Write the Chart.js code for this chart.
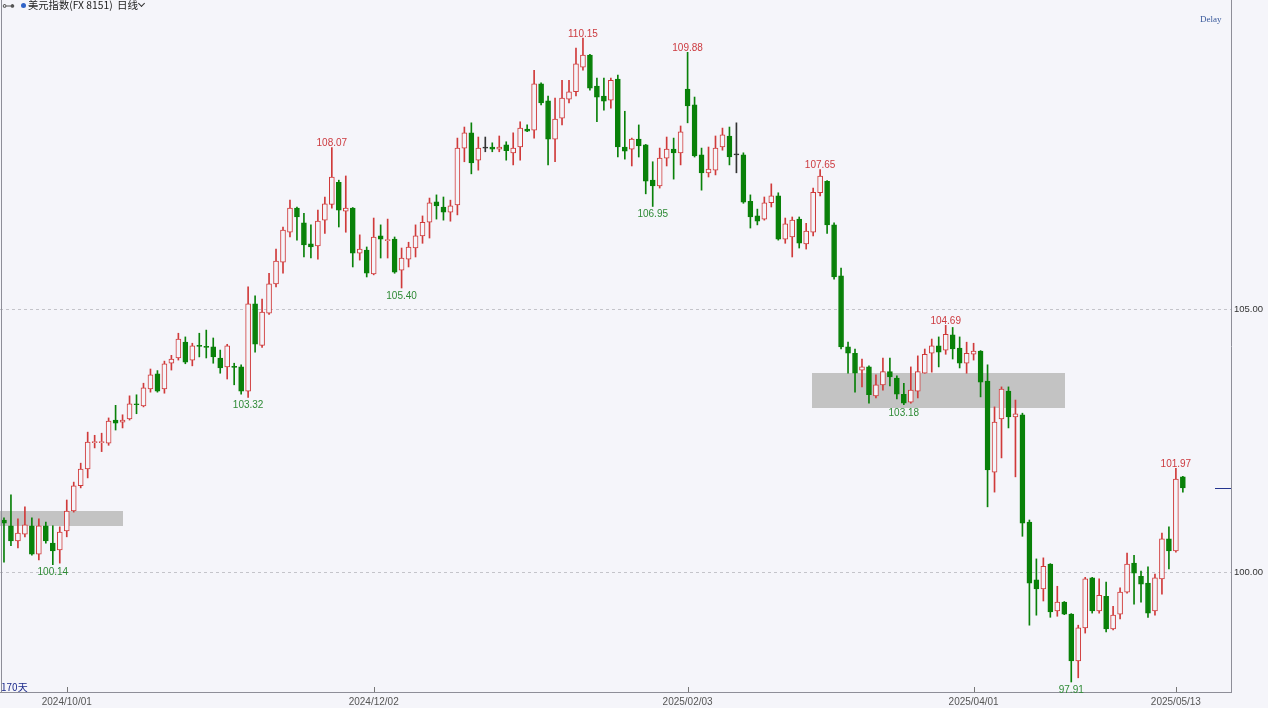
<!DOCTYPE html>
<html>
<head>
<meta charset="utf-8">
<title>美元指数 日线</title>
<script src="https://cdn.jsdelivr.net/npm/chart.js@4.4.1/dist/chart.umd.min.js"></script>
<style>
  html, body { margin: 0; padding: 0; background: #f5f5fa; }
  #wrap { position: relative; width: 1268px; height: 708px; overflow: hidden; background: #f5f5fa; }
  #c { position: absolute; left: 0; top: 0; }
  .t { position: absolute; white-space: nowrap; font-family: "Noto Sans CJK SC", "Liberation Sans", sans-serif; line-height: 1; }
  .chev { position: absolute; left: 139px; top: 1px; width: 4px; height: 4px;
          border-right: 1.3px solid #333; border-bottom: 1.3px solid #333; transform: rotate(45deg); }
  .dot { position: absolute; left: 21px; top: 3px; width: 5px; height: 5px; border-radius: 50%; background: #2f63c8; }
</style>
</head>
<body>
<div id="wrap">
  <canvas id="c" width="1268" height="708"></canvas>
  <div class="t" style="left:2px;top:-1px;font-size:13px;color:#555;font-family:'DejaVu Sans',sans-serif;">⊶</div>
  <div class="dot"></div>
  <div class="t" style="left:28px;top:0px;font-size:10.3px;color:#222;">美元指数(FX 8151)</div>
  <div class="t" style="left:117px;top:0px;font-size:10.5px;color:#222;">日线</div>
  <div class="chev"></div>
  <div class="t" style="left:1200px;top:15px;font-size:9px;color:#3a5a9c;font-family:'Liberation Serif',serif;">Delay</div>
  <div class="t" style="left:1px;top:682px;font-size:10px;color:#1c2a8c;">170天</div>
</div>
<script>
// Daily OHLC of the dollar index, oldest first (2024/09/18 .. 2025/05/14)
const open = [
  100.99,100.88,100.59,100.72,100.88,100.34,100.88,100.55,100.42,100.78,
  101.16,101.64,101.96,102.46,102.46,102.45,102.89,102.85,102.91,103.20,
  103.16,103.48,103.77,103.48,103.97,104.07,104.37,104.03,104.31,104.29,
  104.28,104.07,103.90,103.91,103.90,103.44,105.10,104.31,104.92,105.48,
  105.89,106.46,106.92,106.64,106.24,106.20,106.69,106.99,107.41,106.86,
  106.92,106.06,106.12,105.67,106.39,106.30,106.33,105.74,105.95,106.16,
  106.39,106.65,107.04,106.94,106.84,106.98,108.06,108.35,107.83,108.06,
  108.08,108.04,108.12,107.97,108.08,108.42,108.40,109.28,108.96,108.23,
  108.63,108.99,109.13,109.60,109.83,109.24,109.05,108.97,109.37,108.08,
  108.04,108.23,108.12,107.45,107.34,107.87,108.04,107.97,109.18,108.88,
  107.93,107.59,107.64,108.08,108.29,107.93,107.93,107.05,106.77,106.71,
  107.02,107.15,106.33,106.37,106.71,106.24,106.46,107.21,107.43,106.60,
  105.63,104.28,104.16,103.84,103.90,103.35,103.56,103.81,103.69,103.38,
  103.23,103.44,103.78,104.16,104.30,104.22,104.51,104.26,103.97,104.14,
  104.20,103.63,101.90,102.91,103.44,102.95,102.99,100.95,99.85,99.68,
  100.15,99.26,99.43,99.20,98.31,98.94,99.89,99.26,99.54,98.92,
  99.20,99.62,100.17,99.92,99.79,99.26,99.87,100.63,100.40,101.81
];
const high = [
  101.03,101.47,101.01,101.24,101.03,101.01,100.95,100.88,100.86,101.37,
  101.71,102.07,102.66,102.60,102.64,102.93,103.17,102.99,103.35,103.37,
  103.59,103.86,103.83,104.01,104.12,104.54,104.47,104.35,104.54,104.60,
  104.45,104.22,104.33,103.97,103.94,105.42,105.25,105.19,105.68,106.14,
  106.56,107.07,106.94,106.82,106.60,106.88,107.13,108.07,107.45,107.53,
  106.93,106.41,106.18,106.73,106.60,106.71,106.37,106.16,106.27,106.60,
  106.77,107.11,107.17,107.13,107.07,108.25,108.46,108.54,108.27,108.27,
  108.16,108.29,108.18,108.35,108.56,108.50,109.54,109.30,109.05,109.01,
  109.35,109.35,109.96,110.15,109.84,109.39,109.39,109.39,109.45,108.76,
  108.25,108.50,108.13,107.80,108.06,108.27,108.25,108.48,109.88,109.03,
  108.06,108.08,108.29,108.44,108.46,108.54,107.97,107.17,106.90,107.13,
  107.38,107.21,106.73,106.75,106.75,106.63,107.30,107.65,107.44,106.64,
  105.78,104.37,104.24,104.05,103.92,103.75,104.07,104.07,103.73,103.59,
  103.90,104.11,104.24,104.43,104.47,104.69,104.65,104.47,104.37,104.35,
  104.21,103.94,103.14,103.52,103.52,103.27,103.02,100.99,100.25,100.27,
  100.16,99.73,99.44,99.21,98.99,99.90,99.90,99.87,99.81,99.35,
  99.70,100.36,100.32,100.02,100.10,99.96,100.74,100.86,101.97,101.82
];
const low = [
  100.19,100.50,100.46,100.67,100.32,100.23,100.55,100.14,100.17,100.67,
  101.14,101.60,101.79,102.36,102.29,102.41,102.70,102.74,102.89,103.01,
  103.14,103.42,103.42,103.40,103.84,104.03,103.96,103.92,104.09,104.07,
  103.97,103.78,103.67,103.56,103.38,103.32,104.18,104.27,104.90,105.42,
  105.68,106.37,106.31,105.99,105.97,105.95,106.44,106.92,106.56,106.46,
  105.80,105.93,105.61,105.65,105.97,105.97,105.68,105.40,105.80,105.99,
  106.25,106.35,106.71,106.69,106.67,106.79,107.80,107.57,107.64,107.99,
  107.99,107.99,107.83,107.74,107.83,108.37,108.25,108.88,107.74,107.80,
  108.50,108.92,109.05,109.54,109.16,108.56,108.78,108.82,107.89,107.85,
  107.72,107.89,107.19,106.95,107.30,107.72,107.47,107.74,108.54,107.89,
  107.26,107.51,107.55,108.02,107.74,107.59,107.01,106.54,106.60,106.69,
  106.94,106.31,106.25,105.99,106.16,106.14,106.39,107.15,106.44,105.57,
  104.24,103.78,103.42,103.52,103.21,103.31,103.46,103.54,103.29,103.18,
  103.21,103.31,103.78,103.80,103.90,104.14,104.05,103.88,103.78,104.03,
  103.33,101.24,101.52,102.17,102.74,101.81,100.68,98.99,99.18,99.45,
  99.14,99.16,99.19,97.91,97.99,98.84,99.22,99.22,98.86,98.90,
  99.11,99.60,99.39,99.43,99.14,99.18,99.58,100.06,100.38,101.52
];
const close = [
  100.93,100.59,100.74,100.90,100.34,100.88,100.59,100.40,100.76,101.16,
  101.64,101.96,102.47,102.48,102.47,102.87,102.83,102.89,103.20,103.18,
  103.50,103.75,103.44,103.96,104.05,104.43,103.99,104.30,104.29,104.27,
  104.09,103.88,104.30,103.89,103.44,105.10,104.33,104.94,105.48,105.91,
  106.50,106.92,106.75,106.22,106.18,106.67,107.00,107.51,106.88,106.92,
  106.06,106.14,105.68,106.37,106.33,106.32,105.70,105.97,106.18,106.39,
  106.65,107.02,106.96,106.84,106.96,108.06,108.35,107.78,108.06,108.06,
  108.04,108.08,108.01,108.06,108.44,108.38,109.28,108.92,108.23,108.61,
  109.01,109.13,109.66,109.83,109.20,109.03,108.95,109.35,108.08,108.00,
  108.23,108.10,107.43,107.34,107.87,108.04,107.97,108.37,108.86,107.91,
  107.59,107.66,108.06,108.31,107.89,107.93,107.03,106.75,106.67,107.02,
  107.15,106.33,106.62,106.69,106.25,106.48,107.22,107.53,106.60,105.61,
  104.28,104.16,103.78,103.90,103.37,103.56,103.81,103.71,103.38,103.21,
  103.46,103.81,104.14,104.30,104.18,104.52,104.24,103.97,104.16,104.20,
  103.61,101.94,102.85,103.48,102.95,103.01,100.93,99.79,99.68,100.11,
  99.24,99.43,99.20,98.31,98.94,99.87,99.26,99.56,98.92,99.18,
  99.62,100.15,99.98,99.77,99.22,99.89,100.63,100.40,101.77,101.60
];

// Swing highs / lows that carry a price tag (bar numbers)
const swingHighs = [47, 83, 98, 117, 135, 168];
const swingLows = [7, 35, 57, 93, 129, 153];

// Shaded support/resistance bands: bar span and price span
const zones = [
  { from: -1, to: 17.06, lo: 100.87, hi: 101.16 },
  { from: 115.8, to: 152.1, lo: 103.12, hi: 103.78 }
];

const yTicks = [100, 105];
const dateTicks = ['2024/10/01', '2024/12/02', '2025/02/03', '2025/04/01', '2025/05/13'];
const lastSession = [2025, 4, 14];
const closedDays = ['2025/04/18'];

const BG = '#f5f5fa';
const UP = '#d03a3a';
const DOWN = '#098109';
const FLAT = '#333333';
const ZONE = '#c3c3c3';
const AXIS = '#8e8e98';

function fmt(d) {
  const p = n => String(n).padStart(2, '0');
  return d.getUTCFullYear() + '/' + p(d.getUTCMonth() + 1) + '/' + p(d.getUTCDate());
}
// session dates, counted back from the latest session over weekdays
function sessionDates(n) {
  const out = [];
  const d = new Date(Date.UTC(lastSession[0], lastSession[1], lastSession[2]));
  while (out.length < n) {
    const wd = d.getUTCDay();
    const s = fmt(d);
    if (wd !== 0 && wd !== 6 && !closedDays.includes(s)) out.unshift(s);
    d.setUTCDate(d.getUTCDate() - 1);
  }
  return out;
}
const dates = sessionDates(close.length);
const idx = close.map((_, i) => i);
const colorOf = i => close[i] > open[i] ? UP : (close[i] < open[i] ? DOWN : FLAT);

const overlay = {
  id: 'overlay',
  beforeDatasetsDraw(chart) {
    const { ctx, chartArea: a, scales: { x, y } } = chart;
    ctx.save();
    ctx.beginPath();
    ctx.rect(a.left, a.top, a.right - a.left, a.bottom - a.top);
    ctx.clip();
    ctx.fillStyle = ZONE;
    zones.forEach(z => {
      const x0 = x.getPixelForValue(z.from), x1 = x.getPixelForValue(z.to);
      const y0 = y.getPixelForValue(z.hi), y1 = y.getPixelForValue(z.lo);
      ctx.fillRect(Math.round(x0), Math.round(y0), Math.round(x1 - x0), Math.round(y1 - y0));
    });
    ctx.restore();
  },
  afterDatasetsDraw(chart) {
    const { ctx, chartArea: a, scales: { x, y } } = chart;
    ctx.save();
    ctx.font = '10px "Liberation Sans", Arial, sans-serif';
    ctx.textAlign = 'center';
    ctx.fillStyle = '#cc3a3f';
    ctx.textBaseline = 'bottom';
    swingHighs.forEach(i => {
      ctx.fillText(high[i].toFixed(2), x.getPixelForValue(i), y.getPixelForValue(high[i]) + 1);
    });
    ctx.fillStyle = '#2e8a35';
    ctx.textBaseline = 'top';
    swingLows.forEach(i => {
      ctx.fillText(low[i].toFixed(2), x.getPixelForValue(i), y.getPixelForValue(low[i]) + 3);
    });
    // last price marker at the price axis
    const last = close[close.length - 1];
    const ly = Math.round(y.getPixelForValue(last)) + 0.5;
    ctx.strokeStyle = '#24348f';
    ctx.lineWidth = 1;
    ctx.beginPath();
    ctx.moveTo(a.right - 16, ly);
    ctx.lineTo(a.right, ly);
    ctx.stroke();
    // date tick marks standing on the time axis
    ctx.strokeStyle = '#777';
    x.ticks.forEach(t => {
      const tx = Math.round(x.getPixelForValue(t.value)) + 0.5;
      ctx.beginPath();
      ctx.moveTo(tx, a.bottom - 5);
      ctx.lineTo(tx, a.bottom);
      ctx.stroke();
    });
    // left frame edge
    ctx.strokeStyle = AXIS;
    ctx.beginPath();
    ctx.moveTo(1.5, a.top);
    ctx.lineTo(1.5, a.bottom);
    ctx.stroke();
    ctx.restore();
  }
};

new Chart(document.getElementById('c'), {
  type: 'bar',
  data: {
    datasets: [
      {
        label: 'body',
        data: idx.map(i => ({ x: i, y: [open[i], close[i]] })),
        backgroundColor: idx.map(i => close[i] > open[i] ? BG : colorOf(i)),
        borderColor: idx.map(colorOf),
        borderWidth: 1,
        borderSkipped: false,
        barThickness: 5,
        minBarLength: 1,
        grouped: false,
        order: 0
      },
      {
        label: 'wick',
        data: idx.map(i => ({ x: i, y: [low[i], high[i]] })),
        backgroundColor: idx.map(colorOf),
        borderWidth: 0,
        barThickness: 1,
        grouped: false,
        order: 1
      }
    ]
  },
  options: {
    responsive: false,
    animation: false,
    events: [],
    layout: { padding: 0 },
    plugins: { legend: { display: false }, tooltip: { enabled: false }, title: { display: false } },
    scales: {
      x: {
        type: 'linear',
        offset: false,
        min: -0.57,
        max: 175.9,
        afterFit: s => { s.height = 16; s.paddingLeft = 0; s.paddingRight = 0; },
        afterBuildTicks: s => {
          s.ticks = dateTicks.map(d => ({ value: dates.indexOf(d) })).filter(t => t.value >= 0);
        },
        ticks: {
          autoSkip: false,
          maxRotation: 0,
          padding: 4,
          color: '#555',
          font: { size: 10, family: '"Liberation Sans", Arial, sans-serif' },
          callback: v => dates[v] || ''
        },
        grid: { display: false, drawTicks: false, offset: false },
        border: { display: true, color: AXIS, width: 1 }
      },
      y: {
        position: 'right',
        min: 97.72,
        max: 110.875,
        afterFit: s => { s.width = 37; s.paddingTop = 0; s.paddingBottom = 0; },
        afterBuildTicks: s => { s.ticks = yTicks.map(v => ({ value: v })); },
        ticks: {
          padding: 3,
          color: '#333',
          font: { size: 9.5, family: '"Liberation Sans", Arial, sans-serif' },
          callback: v => Number(v).toFixed(2)
        },
        grid: { color: '#c4c4ca', lineWidth: 1, drawTicks: false },
        border: { display: true, color: AXIS, width: 1, dash: [3, 3] }
      }
    }
  },
  plugins: [overlay]
});
</script>
</body>
</html>
